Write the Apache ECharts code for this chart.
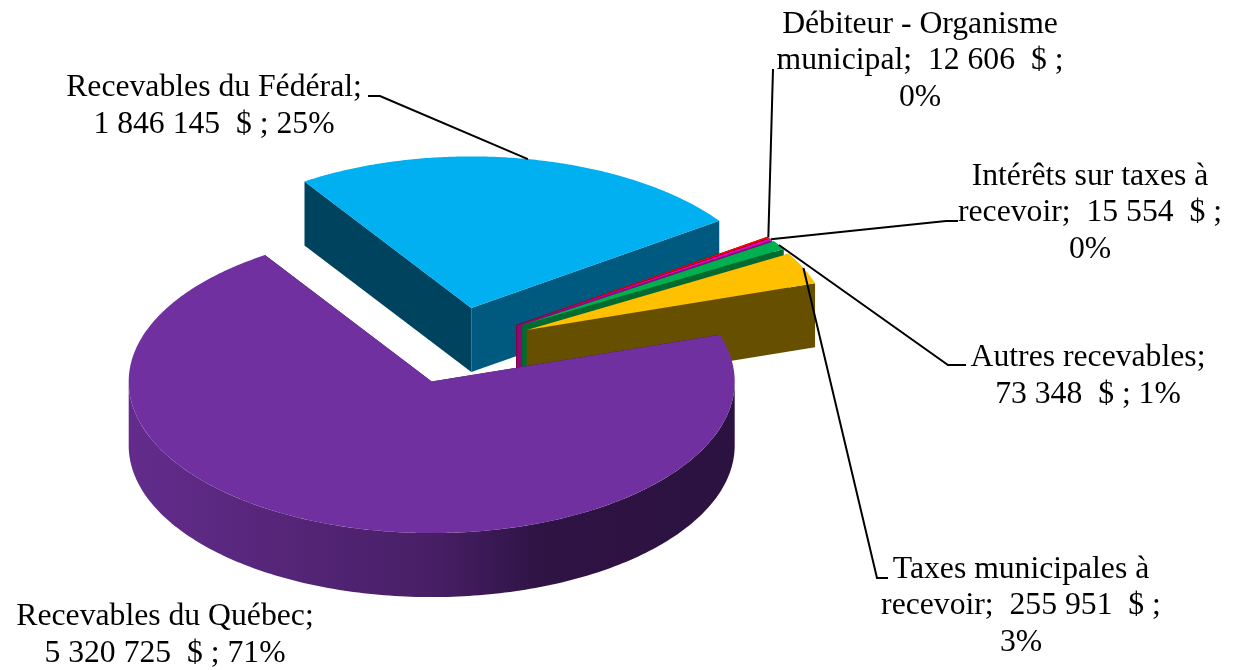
<!DOCTYPE html>
<html>
<head>
<meta charset="utf-8">
<style>html,body{margin:0;padding:0;background:#fff}#c{width:1235px;height:670px}</style>
<script src="https://cdn.jsdelivr.net/npm/echarts@6/dist/echarts.min.js"></script>
</head>
<body>
<div id="c"></div>
<script>
// Data, in drawing order (back to front), clockwise from the Fédéral slice
const categories = ['Recevables du Fédéral', 'Débiteur - Organisme municipal', 'Intérêts sur taxes à recevoir', 'Autres recevables', 'Taxes municipales à recevoir', 'Recevables du Québec'];
const amounts = [1846145, 12606, 15554, 73348, 255951, 5320725];
const labelTexts = [
  'Recevables du Fédéral;\n1 846 145  $ ; 25%',
  'Débiteur - Organisme\nmunicipal;  12 606  $ ;\n0%',
  'Intérêts sur taxes à\nrecevoir;  15 554  $ ;\n0%',
  'Autres recevables;\n73 348  $ ; 1%',
  'Taxes municipales à\nrecevoir;  255 951  $ ;\n3%',
  'Recevables du Québec;\n5 320 725  $ ; 71%'
];

// Styles
const topColors = ['#00B0F0', '#FF0000', '#E600C8', '#00B050', '#FFC000', '#7030A0'];
const startWalls = ['#00435E', '#660000', '#660060', '#004D24', '#665000', '#2C1240'];
const endWalls = ['#005A7F', '#8B0000', '#8A0A78', '#006B30', '#665000', '#2C1240'];
const frontWall = {type:'linear', global:true, x:128, y:0, x2:735, y2:0, colorStops:[
  {offset:0, color:'#632C8C'}, {offset:0.5, color:'#481F66'}, {offset:0.68, color:'#2E1344'}, {offset:1, color:'#2C1240'}]};

// Pie geometry
const cx = 457, cy = 345.5, depth = 64, firstAngle = -33.4;
const explodes = [76.5, 72, 72, 76.5, 76.5, 76.5];
const radiiX = [303, 307, 307, 303, 303, 303];

// Label layout: centre of each text block and leader-line route (null = no leader)
const labelCentres = [[214,106],[920,61],[1090,213],[1088,376],[1021,606],[165,635]];
const leaderRoutes = [[[380,96],[368,96]], [[773,69]], [[946,221],[958,221]], [[948,365],[966,365]], [[877,578],[888,578]], null];

const total = amounts.reduce((a, b) => a + b, 0);
const rad = d => d * Math.PI / 180;
let running = firstAngle;
const slices = amounts.map((v, i) => {
  const a0 = running, a1 = running + v / total * 360;
  running = a1;
  const mid = (a0 + a1) / 2, e = explodes[i];
  return {a0, a1, mid, rx: radiiX[i], ry: radiiX[i] / 2, ax: cx + e * Math.sin(rad(mid)), ay: cy - e * 0.5 * Math.cos(rad(mid))};
});
const rim = (s, a, dy) => [s.ax + s.rx * Math.sin(rad(a)), s.ay - s.ry * Math.cos(rad(a)) + (dy || 0)];
const poly = (points, fill) => ({type:'polygon', shape:{points}, style:{fill, stroke:null}});

function renderSlice(params, api) {
  const i = api.value(0), s = slices[i], children = [];
  // radial walls
  for (const [a, col] of [[s.a0, startWalls[i]], [s.a1, endWalls[i]]]) {
    children.push(poly([[s.ax, s.ay], rim(s, a), rim(s, a, depth), [s.ax, s.ay + depth]], col));
  }
  // outer wall (front half only)
  const lo = Math.max(s.a0, 90), hi = Math.min(s.a1, 270);
  if (hi > lo) {
    const up = [], down = [];
    for (let a = lo; a <= hi + 1e-6; a += (hi - lo) / 180) { up.push(rim(s, a)); down.unshift(rim(s, a, depth)); }
    children.push(poly(up.concat(down), frontWall));
  }
  // top face
  const top = [[s.ax, s.ay]];
  const n = Math.max(4, Math.ceil(s.a1 - s.a0) * 2);
  for (let k = 0; k <= n; k++) top.push(rim(s, s.a0 + (s.a1 - s.a0) * k / n));
  children.push(poly(top, topColors[i]));
  return {type:'group', children};
}

function renderLabel(params, api) {
  const i = api.value(0), s = slices[i], children = [];
  if (leaderRoutes[i]) {
    children.push({type:'polyline', shape:{points:[rim(s, s.mid)].concat(leaderRoutes[i])}, style:{stroke:'#000', lineWidth:2, fill:null}});
  }
  children.push({type:'text', x:labelCentres[i][0], y:labelCentres[i][1], style:{
    text:labelTexts[i], fill:'#000', align:'center', verticalAlign:'middle',
    font:'31.7px "Liberation Serif"', lineHeight:36.6}});
  return {type:'group', children};
}

const rows = amounts.map((v, i) => [i, v, categories[i]]);
const chart = echarts.init(document.getElementById('c'));
chart.setOption({
  animation:false,
  backgroundColor:'#fff',
  series:[
    {type:'custom', coordinateSystem:'none', data:rows, renderItem:renderSlice, z:2, silent:true},
    {type:'custom', coordinateSystem:'none', data:rows, renderItem:renderLabel, z:3, silent:true}
  ]
});
</script>
</body>
</html>
